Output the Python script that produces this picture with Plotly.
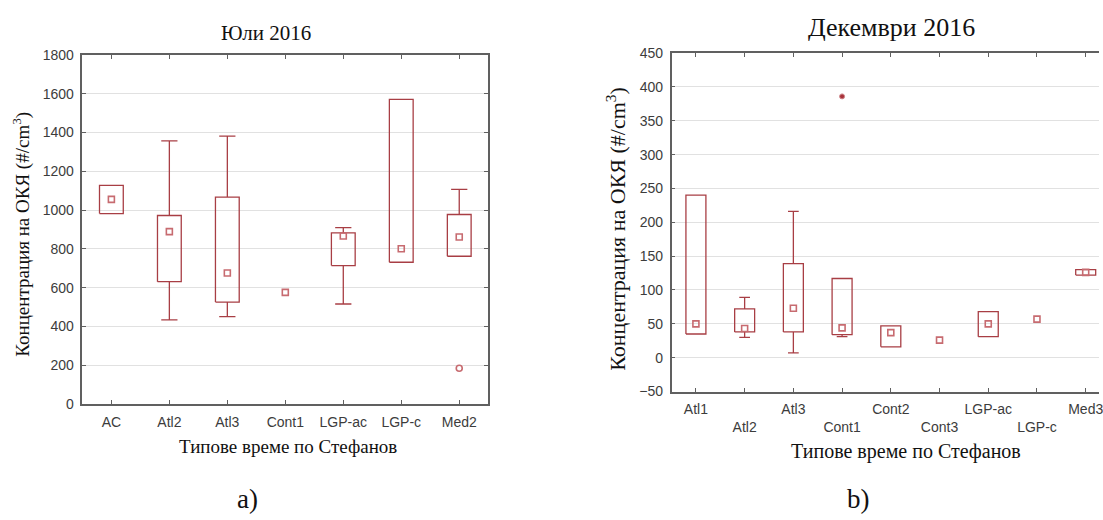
import plotly.graph_objects as go

# --- July 2016 -----------------------------------------------------------
jul_cats = ["AC", "Atl2", "Atl3", "Cont1", "LGP-ac", "LGP-c", "Med2"]
jul_median = [1055, 889, 676, 576, 866, 801, 861]
jul_q1 = [982, 631, 526, None, 714, 731, 762]
jul_q3 = [1127, 972, 1067, None, 882, 1570, 977]
jul_low = [None, 434, 451, None, 516, None, None]
jul_high = [None, 1356, 1381, None, 909, None, 1107]
jul_outlier_cats = ["Med2"]
jul_outlier_vals = [185]

# --- December 2016 -------------------------------------------------------
dec_cats = ["Atl1", "Atl2", "Atl3", "Cont1", "Cont2", "Cont3", "LGP-ac", "LGP-c", "Med3"]
dec_median = [50, 43, 73, 44, 37, 26, 50, 57, 126]
dec_q1 = [35, 38, 38, 34, 16, None, 31, None, 122]
dec_q3 = [240, 72, 139, 117, 47, None, 68, None, 130]
dec_low = [None, 30, 7, 31, None, None, None, None, None]
dec_high = [None, 89, 216, None, None, None, None, None, None]
dec_extreme_cats = ["Cont1"]
dec_extreme_vals = [386]

LINE = "#a83e44"
MARK = "#c76b70"
HALF_W = 0.205
CAP_W = {"x": 0.14, "x2": 0.11}


def box_geometry(q1, q3, low, high, cap):
    bx, by, wx, wy = [], [], [], []
    for i in range(len(q1)):
        if q1[i] is not None:
            bx += [i - HALF_W, i + HALF_W, i + HALF_W, i - HALF_W, i - HALF_W, None]
            by += [q1[i], q1[i], q3[i], q3[i], q1[i], None]
        if high[i] is not None:
            wx += [i, i, None, i - cap, i + cap, None]
            wy += [q3[i], high[i], None, high[i], high[i], None]
        if low[i] is not None:
            wx += [i, i, None, i - cap, i + cap, None]
            wy += [q1[i], low[i], None, low[i], low[i], None]
    return bx, by, wx, wy


fig = go.Figure()


def add_panel(cats, med, q1, q3, low, high, xa, ya):
    bx, by, wx, wy = box_geometry(q1, q3, low, high, CAP_W[xa])
    fig.add_trace(go.Scatter(x=wx, y=wy, mode="lines", line=dict(color=LINE, width=1.3),
                             xaxis=xa, yaxis=ya, hoverinfo="skip"))
    fig.add_trace(go.Scatter(x=bx, y=by, mode="lines", line=dict(color=LINE, width=1.3),
                             xaxis=xa, yaxis=ya, hoverinfo="skip"))
    fig.add_trace(go.Scatter(x=list(range(len(cats))), y=med, mode="markers",
                             marker=dict(symbol="square-open", size=6, color=MARK,
                                         line=dict(width=1.6, color=MARK)),
                             xaxis=xa, yaxis=ya, name="Медиана"))


add_panel(jul_cats, jul_median, jul_q1, jul_q3, jul_low, jul_high, "x", "y")
add_panel(dec_cats, dec_median, dec_q1, dec_q3, dec_low, dec_high, "x2", "y2")

fig.add_trace(go.Scatter(x=[jul_cats.index(c) for c in jul_outlier_cats], y=jul_outlier_vals,
                         mode="markers", xaxis="x", yaxis="y",
                         marker=dict(symbol="circle-open", size=6, color=MARK,
                                     line=dict(width=1.6, color=MARK))))
fig.add_trace(go.Scatter(x=[dec_cats.index(c) for c in dec_extreme_cats], y=dec_extreme_vals,
                         mode="markers", xaxis="x2", yaxis="y2",
                         marker=dict(symbol="circle", size=5, color="#a8323a",
                                     line=dict(width=1, color="#d08a8e"))))

W, H = 1103, 520
TICKFONT = dict(family="Liberation Sans, Arial", size=14, color="#3c3c3c")
SERIF = "Liberation Serif, Times New Roman"
GRID = "#e1e1e1"
AXLINE = "#606060"

dec_ticktext = [c if i % 2 == 0 else "<br>" + c for i, c in enumerate(dec_cats)]

fig.update_layout(
    width=W, height=H,
    margin=dict(l=0, r=0, t=0, b=0),
    paper_bgcolor="white", plot_bgcolor="white",
    showlegend=False,
    xaxis=dict(domain=[82.7 / W, 490 / W], range=[-0.5, 6.5],
               tickvals=list(range(len(jul_cats))), ticktext=jul_cats,
               showgrid=False, zeroline=False, showline=True, linecolor=AXLINE, linewidth=1.5,
               mirror="ticks", ticks="inside", ticklen=4, tickcolor=AXLINE,
               tickfont=TICKFONT, ticklabelstandoff=4),
    yaxis=dict(domain=[1 - 408.7 / H, 1 - 48.3 / H], range=[0, 1800],
               tickvals=list(range(0, 1801, 200)),
               showgrid=True, gridcolor=GRID, gridwidth=1, zeroline=False,
               showline=True, linecolor=AXLINE, linewidth=1.5,
               mirror="ticks", ticks="inside", ticklen=4, tickcolor=AXLINE,
               tickfont=TICKFONT, ticklabelstandoff=4),
    xaxis2=dict(domain=[674 / W, 1], range=[-0.5, -0.5 + (W - 674) / 48.9],
                tickvals=list(range(len(dec_cats))), ticktext=dec_ticktext,
                showgrid=False, zeroline=False, showline=True, linecolor=AXLINE, linewidth=1.5,
                mirror="ticks", ticks="inside", ticklen=4, tickcolor=AXLINE,
                tickfont=TICKFONT, ticklabelstandoff=4, anchor="y2",
                ticklabeloverflow="allow"),
    yaxis2=dict(domain=[1 - 395.7 / H, 1 - 46.5 / H], range=[-50, 450],
                tickvals=list(range(-50, 451, 50)),
                showgrid=True, gridcolor=GRID, gridwidth=1, zeroline=False,
                showline=True, linecolor=AXLINE, linewidth=1.5,
                ticks="inside", ticklen=4, tickcolor=AXLINE,
                tickfont=TICKFONT, ticklabelstandoff=4, anchor="x2"),
)


def note(text, x, y, size, angle=0):
    fig.add_annotation(text=text, x=x / W, y=1 - y / H, xref="paper", yref="paper",
                       showarrow=False, xanchor="center", yanchor="middle",
                       textangle=angle, font=dict(family=SERIF, size=size, color="#111111"))


note("Юли 2016", 267, 26, 21)
note("Декември 2016", 895, 20, 26)
note("Концентрация на ОКЯ (#/cm<sup>3</sup>)", 22, 233, 19, -90)
note("Концентрация на ОКЯ (#/cm<sup>3</sup>)", 618, 228, 22, -90)
note("Типове време по Стефанов", 289, 452, 19)
note("Типове време по Стефанов", 909, 458, 20)
note("a)", 248, 507, 27)
note("b)", 862, 507, 27)

fig.write_html("out.html")
